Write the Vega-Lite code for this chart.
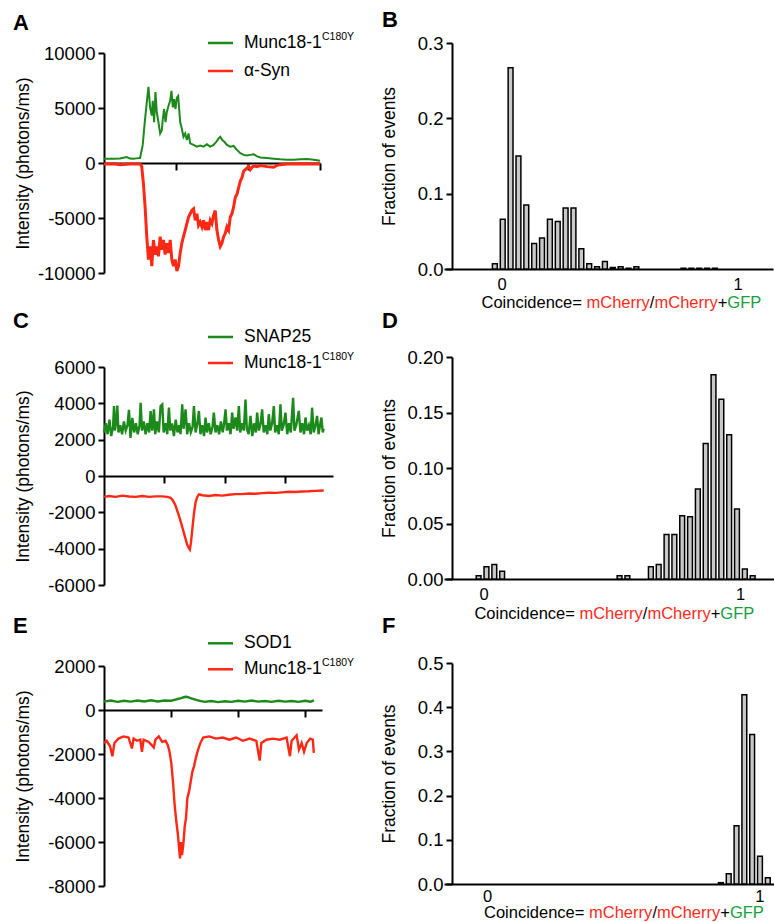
{
  "$schema": "https://vega.github.io/schema/vega-lite/v6.json",
  "background": "white",
  "padding": {"left": 12, "top": 0, "right": 0, "bottom": 0},
  "config": {
    "font": "Liberation Sans",
    "view": {"stroke": null},
    "axis": {"domainColor": "#000", "domainWidth": 2, "tickColor": "#000", "tickWidth": 2, "tickSize": 6, "labelColor": "#000", "labelFontSize": 18.5, "labelFont": "Liberation Sans", "titleFont": "Liberation Sans", "titleFontSize": 17.5, "titleFontWeight": "normal", "titleColor": "#000", "grid": false, "labelPadding": 3, "zindex": 1, "labelOverlap": false, "labelBound": false},
    "text": {"font": "Liberation Sans", "color": "#000"}
  },
  "hconcat": [
    {
      "vconcat": [
        {"width": 1, "height": 53, "data": {"values": []}, "mark": {"type": "point", "opacity": 0}},
        {
          "width": 216, "height": 220,
          "layer": [
            {
              "data": {"values": [
                {"t":0,"v":390,"s":"g"},{"t":0.13,"v":390,"s":"g"},{"t":0.22,"v":420,"s":"g"},{"t":0.316,"v":540,"s":"g"},{"t":0.36,"v":400,"s":"g"},{"t":0.408,"v":390,"s":"g"},{"t":0.45,"v":420,"s":"g"},{"t":0.501,"v":450,"s":"g"},{"t":0.538,"v":1640,"s":"g"},{"t":0.566,"v":3720,"s":"g"},{"t":0.594,"v":5500,"s":"g"},{"t":0.617,"v":6930,"s":"g"},{"t":0.64,"v":5060,"s":"g"},{"t":0.664,"v":4320,"s":"g"},{"t":0.677,"v":5650,"s":"g"},{"t":0.696,"v":3720,"s":"g"},{"t":0.715,"v":6460,"s":"g"},{"t":0.733,"v":4610,"s":"g"},{"t":0.756,"v":3720,"s":"g"},{"t":0.78,"v":2680,"s":"g"},{"t":0.803,"v":2980,"s":"g"},{"t":0.817,"v":4020,"s":"g"},{"t":0.835,"v":4910,"s":"g"},{"t":0.854,"v":3720,"s":"g"},{"t":0.872,"v":4610,"s":"g"},{"t":0.896,"v":5210,"s":"g"},{"t":0.919,"v":5650,"s":"g"},{"t":0.937,"v":6550,"s":"g"},{"t":0.956,"v":5060,"s":"g"},{"t":0.974,"v":5800,"s":"g"},{"t":0.993,"v":4910,"s":"g"},{"t":1.012,"v":5950,"s":"g"},{"t":1.03,"v":6100,"s":"g"},{"t":1.044,"v":4910,"s":"g"},{"t":1.058,"v":3720,"s":"g"},{"t":1.081,"v":3120,"s":"g"},{"t":1.104,"v":2380,"s":"g"},{"t":1.128,"v":2680,"s":"g"},{"t":1.151,"v":2080,"s":"g"},{"t":1.174,"v":2680,"s":"g"},{"t":1.197,"v":1790,"s":"g"},{"t":1.244,"v":1640,"s":"g"},{"t":1.29,"v":1490,"s":"g"},{"t":1.336,"v":1580,"s":"g"},{"t":1.383,"v":1490,"s":"g"},{"t":1.429,"v":1700,"s":"g"},{"t":1.476,"v":1490,"s":"g"},{"t":1.522,"v":1640,"s":"g"},{"t":1.559,"v":1930,"s":"g"},{"t":1.592,"v":2230,"s":"g"},{"t":1.615,"v":2380,"s":"g"},{"t":1.643,"v":2080,"s":"g"},{"t":1.671,"v":1930,"s":"g"},{"t":1.708,"v":1640,"s":"g"},{"t":1.754,"v":1490,"s":"g"},{"t":1.8,"v":1550,"s":"g"},{"t":1.847,"v":1190,"s":"g"},{"t":1.893,"v":890,"s":"g"},{"t":1.94,"v":740,"s":"g"},{"t":1.986,"v":680,"s":"g"},{"t":2.032,"v":740,"s":"g"},{"t":2.079,"v":800,"s":"g"},{"t":2.125,"v":600,"s":"g"},{"t":2.172,"v":510,"s":"g"},{"t":2.265,"v":450,"s":"g"},{"t":2.357,"v":390,"s":"g"},{"t":2.45,"v":330,"s":"g"},{"t":2.543,"v":300,"s":"g"},{"t":2.636,"v":300,"s":"g"},{"t":2.729,"v":330,"s":"g"},{"t":2.821,"v":360,"s":"g"},{"t":2.914,"v":300,"s":"g"},{"t":3.0,"v":210,"s":"g"},
                {"t":0,"v":-90,"s":"r"},{"t":0.13,"v":-60,"s":"r"},{"t":0.223,"v":-150,"s":"r"},{"t":0.362,"v":-90,"s":"r"},{"t":0.501,"v":-90,"s":"r"},{"t":0.524,"v":-300,"s":"r"},{"t":0.548,"v":-1930,"s":"r"},{"t":0.571,"v":-4020,"s":"r"},{"t":0.594,"v":-6700,"s":"r"},{"t":0.617,"v":-8780,"s":"r"},{"t":0.64,"v":-7590,"s":"r"},{"t":0.664,"v":-9370,"s":"r"},{"t":0.687,"v":-7000,"s":"r"},{"t":0.71,"v":-8330,"s":"r"},{"t":0.733,"v":-7590,"s":"r"},{"t":0.756,"v":-8480,"s":"r"},{"t":0.78,"v":-6700,"s":"r"},{"t":0.803,"v":-7890,"s":"r"},{"t":0.826,"v":-7000,"s":"r"},{"t":0.849,"v":-8330,"s":"r"},{"t":0.872,"v":-7290,"s":"r"},{"t":0.896,"v":-8180,"s":"r"},{"t":0.919,"v":-7000,"s":"r"},{"t":0.942,"v":-8780,"s":"r"},{"t":0.965,"v":-9370,"s":"r"},{"t":0.988,"v":-8780,"s":"r"},{"t":1.012,"v":-9820,"s":"r"},{"t":1.035,"v":-9370,"s":"r"},{"t":1.058,"v":-8180,"s":"r"},{"t":1.081,"v":-7290,"s":"r"},{"t":1.104,"v":-6700,"s":"r"},{"t":1.128,"v":-6100,"s":"r"},{"t":1.151,"v":-5510,"s":"r"},{"t":1.174,"v":-4910,"s":"r"},{"t":1.197,"v":-4610,"s":"r"},{"t":1.22,"v":-4320,"s":"r"},{"t":1.244,"v":-4170,"s":"r"},{"t":1.267,"v":-5210,"s":"r"},{"t":1.29,"v":-4610,"s":"r"},{"t":1.313,"v":-5650,"s":"r"},{"t":1.336,"v":-5360,"s":"r"},{"t":1.36,"v":-5800,"s":"r"},{"t":1.383,"v":-5210,"s":"r"},{"t":1.406,"v":-6100,"s":"r"},{"t":1.429,"v":-5360,"s":"r"},{"t":1.452,"v":-6100,"s":"r"},{"t":1.476,"v":-5210,"s":"r"},{"t":1.499,"v":-5510,"s":"r"},{"t":1.522,"v":-4760,"s":"r"},{"t":1.545,"v":-4320,"s":"r"},{"t":1.568,"v":-6100,"s":"r"},{"t":1.592,"v":-7000,"s":"r"},{"t":1.615,"v":-7590,"s":"r"},{"t":1.638,"v":-7290,"s":"r"},{"t":1.661,"v":-6700,"s":"r"},{"t":1.684,"v":-6400,"s":"r"},{"t":1.708,"v":-5800,"s":"r"},{"t":1.731,"v":-6100,"s":"r"},{"t":1.754,"v":-4910,"s":"r"},{"t":1.777,"v":-4610,"s":"r"},{"t":1.8,"v":-4020,"s":"r"},{"t":1.824,"v":-3120,"s":"r"},{"t":1.847,"v":-2830,"s":"r"},{"t":1.87,"v":-2230,"s":"r"},{"t":1.893,"v":-1640,"s":"r"},{"t":1.916,"v":-1340,"s":"r"},{"t":1.94,"v":-740,"s":"r"},{"t":1.963,"v":-600,"s":"r"},{"t":1.986,"v":-450,"s":"r"},{"t":2.009,"v":-300,"s":"r"},{"t":2.032,"v":-600,"s":"r"},{"t":2.056,"v":-390,"s":"r"},{"t":2.079,"v":-270,"s":"r"},{"t":2.125,"v":-330,"s":"r"},{"t":2.172,"v":-240,"s":"r"},{"t":2.265,"v":-330,"s":"r"},{"t":2.357,"v":-390,"s":"r"},{"t":2.404,"v":-210,"s":"r"},{"t":2.45,"v":-150,"s":"r"},{"t":2.543,"v":-90,"s":"r"},{"t":2.729,"v":-60,"s":"r"},{"t":3.0,"v":-90,"s":"r"}
              ]},
              "mark": {"type": "line", "clip": false},
              "encoding": {
                "x": {"field": "t", "type": "quantitative", "scale": {"domain": [0, 3], "nice": false, "zero": false}, "axis": {"values": [1, 2, 3], "tickCount": 10, "labels": false, "title": null, "offset": -110, "tickSize": 7}},
                "y": {"field": "v", "type": "quantitative", "scale": {"domain": [-10000, 10000], "nice": false, "zero": false}, "axis": {"values": [-10000, -5000, 0, 5000, 10000], "tickCount": 10, "title": "Intensity (photons/ms)", "titleX": -72, "labelOverlap": false, "labelExpr": "'' + datum.value"}},
                "color": {"field": "s", "type": "nominal", "scale": {"domain": ["g", "r"], "range": ["#1b8a1b", "#ff2814"]}, "legend": null},
                "strokeWidth": {"field": "s", "type": "nominal", "scale": {"domain": ["g", "r"], "range": [2, 3]}, "legend": null}
              }
            },
            {"data": {"values": [{}]}, "mark": {"type": "rule", "strokeWidth": 2.5, "color": "#1b8a1b"}, "encoding": {"x": {"datum": 1.444, "type": "quantitative"}, "x2": {"datum": 1.792}, "y": {"datum": 10909, "type": "quantitative"}}},
            {"data": {"values": [{}]}, "mark": {"type": "rule", "strokeWidth": 2.5, "color": "#ff2814"}, "encoding": {"x": {"datum": 1.444, "type": "quantitative"}, "x2": {"datum": 1.792}, "y": {"datum": 8364, "type": "quantitative"}}},
            {"data": {"values": [{}]}, "mark": {"type": "text", "text": "Munc18-1", "align": "left", "baseline": "middle", "fontSize": 17.5}, "encoding": {"x": {"datum": 1.944, "type": "quantitative"}, "y": {"datum": 10909, "type": "quantitative"}}},
            {"data": {"values": [{}]}, "mark": {"type": "text", "text": "C180Y", "align": "left", "baseline": "middle", "fontSize": 10.5, "dx": 78, "dy": -6}, "encoding": {"x": {"datum": 1.944, "type": "quantitative"}, "y": {"datum": 10909, "type": "quantitative"}}},
            {"data": {"values": [{}]}, "mark": {"type": "text", "text": "α-Syn", "align": "left", "baseline": "middle", "fontSize": 17.5}, "encoding": {"x": {"datum": 1.944, "type": "quantitative"}, "y": {"datum": 8364, "type": "quantitative"}}},
            {"data": {"values": [{}]}, "mark": {"type": "text", "text": "A", "align": "left", "baseline": "alphabetic", "fontSize": 22, "fontWeight": "bold"}, "encoding": {"x": {"datum": -1.264, "type": "quantitative"}, "y": {"datum": 12090, "type": "quantitative"}}}
          ]
        },
        {"width": 1, "height": 94, "data": {"values": []}, "mark": {"type": "point", "opacity": 0}},
        {
          "width": 229, "height": 218,
          "layer": [
            {
              "data": {"values": [
                {"t":0,"v":2400,"s":"g"},{"t":0.03,"v":2900,"s":"g"},{"t":0.06,"v":2300,"s":"g"},{"t":0.09,"v":3100,"s":"g"},{"t":0.12,"v":2200,"s":"g"},{"t":0.15,"v":2700,"s":"g"},{"t":0.166,"v":3850,"s":"g"},{"t":0.18,"v":2500,"s":"g"},{"t":0.2,"v":2900,"s":"g"},{"t":0.221,"v":3880,"s":"g"},{"t":0.24,"v":2400,"s":"g"},{"t":0.27,"v":2800,"s":"g"},{"t":0.3,"v":2300,"s":"g"},{"t":0.33,"v":3000,"s":"g"},{"t":0.36,"v":2500,"s":"g"},{"t":0.39,"v":2800,"s":"g"},{"t":0.414,"v":3640,"s":"g"},{"t":0.44,"v":2100,"s":"g"},{"t":0.47,"v":3200,"s":"g"},{"t":0.5,"v":2400,"s":"g"},{"t":0.53,"v":2900,"s":"g"},{"t":0.56,"v":2300,"s":"g"},{"t":0.59,"v":2800,"s":"g"},{"t":0.608,"v":4030,"s":"g"},{"t":0.63,"v":2500,"s":"g"},{"t":0.66,"v":3000,"s":"g"},{"t":0.69,"v":2300,"s":"g"},{"t":0.72,"v":2900,"s":"g"},{"t":0.75,"v":2400,"s":"g"},{"t":0.773,"v":3580,"s":"g"},{"t":0.8,"v":2500,"s":"g"},{"t":0.829,"v":3670,"s":"g"},{"t":0.85,"v":2300,"s":"g"},{"t":0.88,"v":3000,"s":"g"},{"t":0.91,"v":2400,"s":"g"},{"t":0.939,"v":3850,"s":"g"},{"t":0.967,"v":3940,"s":"g"},{"t":0.99,"v":2400,"s":"g"},{"t":1.02,"v":2900,"s":"g"},{"t":1.05,"v":2300,"s":"g"},{"t":1.077,"v":3760,"s":"g"},{"t":1.1,"v":2500,"s":"g"},{"t":1.13,"v":2900,"s":"g"},{"t":1.16,"v":2200,"s":"g"},{"t":1.19,"v":3100,"s":"g"},{"t":1.22,"v":2400,"s":"g"},{"t":1.25,"v":2800,"s":"g"},{"t":1.27,"v":2300,"s":"g"},{"t":1.298,"v":3940,"s":"g"},{"t":1.32,"v":2600,"s":"g"},{"t":1.354,"v":3670,"s":"g"},{"t":1.38,"v":2300,"s":"g"},{"t":1.41,"v":2900,"s":"g"},{"t":1.44,"v":2400,"s":"g"},{"t":1.47,"v":2700,"s":"g"},{"t":1.492,"v":3850,"s":"g"},{"t":1.52,"v":2400,"s":"g"},{"t":1.55,"v":2900,"s":"g"},{"t":1.575,"v":3580,"s":"g"},{"t":1.6,"v":2300,"s":"g"},{"t":1.63,"v":2800,"s":"g"},{"t":1.66,"v":2200,"s":"g"},{"t":1.685,"v":3220,"s":"g"},{"t":1.71,"v":2400,"s":"g"},{"t":1.74,"v":2900,"s":"g"},{"t":1.77,"v":2300,"s":"g"},{"t":1.8,"v":2700,"s":"g"},{"t":1.823,"v":3490,"s":"g"},{"t":1.85,"v":2400,"s":"g"},{"t":1.88,"v":2800,"s":"g"},{"t":1.91,"v":2300,"s":"g"},{"t":1.94,"v":3000,"s":"g"},{"t":1.97,"v":2400,"s":"g"},{"t":1.99,"v":2800,"s":"g"},{"t":2.017,"v":3670,"s":"g"},{"t":2.04,"v":2500,"s":"g"},{"t":2.07,"v":2900,"s":"g"},{"t":2.1,"v":2300,"s":"g"},{"t":2.127,"v":3490,"s":"g"},{"t":2.15,"v":2600,"s":"g"},{"t":2.182,"v":3220,"s":"g"},{"t":2.21,"v":2500,"s":"g"},{"t":2.238,"v":3850,"s":"g"},{"t":2.26,"v":2400,"s":"g"},{"t":2.29,"v":2900,"s":"g"},{"t":2.32,"v":2500,"s":"g"},{"t":2.348,"v":4210,"s":"g"},{"t":2.37,"v":2600,"s":"g"},{"t":2.4,"v":2300,"s":"g"},{"t":2.431,"v":3310,"s":"g"},{"t":2.46,"v":2200,"s":"g"},{"t":2.49,"v":2900,"s":"g"},{"t":2.52,"v":2400,"s":"g"},{"t":2.541,"v":3490,"s":"g"},{"t":2.57,"v":2500,"s":"g"},{"t":2.6,"v":2900,"s":"g"},{"t":2.624,"v":3670,"s":"g"},{"t":2.65,"v":2400,"s":"g"},{"t":2.68,"v":2800,"s":"g"},{"t":2.71,"v":2300,"s":"g"},{"t":2.735,"v":3400,"s":"g"},{"t":2.76,"v":2500,"s":"g"},{"t":2.79,"v":2900,"s":"g"},{"t":2.818,"v":3850,"s":"g"},{"t":2.84,"v":2400,"s":"g"},{"t":2.87,"v":2800,"s":"g"},{"t":2.9,"v":2300,"s":"g"},{"t":2.928,"v":3940,"s":"g"},{"t":2.95,"v":2500,"s":"g"},{"t":2.98,"v":2800,"s":"g"},{"t":3.011,"v":3490,"s":"g"},{"t":3.04,"v":2300,"s":"g"},{"t":3.07,"v":2900,"s":"g"},{"t":3.1,"v":2400,"s":"g"},{"t":3.138,"v":4300,"s":"g"},{"t":3.16,"v":2500,"s":"g"},{"t":3.19,"v":2800,"s":"g"},{"t":3.232,"v":3580,"s":"g"},{"t":3.26,"v":2400,"s":"g"},{"t":3.29,"v":2900,"s":"g"},{"t":3.32,"v":2300,"s":"g"},{"t":3.343,"v":3220,"s":"g"},{"t":3.37,"v":2500,"s":"g"},{"t":3.4,"v":2800,"s":"g"},{"t":3.43,"v":2300,"s":"g"},{"t":3.453,"v":3760,"s":"g"},{"t":3.48,"v":2400,"s":"g"},{"t":3.51,"v":2800,"s":"g"},{"t":3.536,"v":3310,"s":"g"},{"t":3.56,"v":2300,"s":"g"},{"t":3.58,"v":2700,"s":"g"},{"t":3.608,"v":3220,"s":"g"},{"t":3.63,"v":2400,"s":"g"},{"t":3.645,"v":2600,"s":"g"},
                {"t":0,"v":-1150,"s":"r"},{"t":0.083,"v":-1100,"s":"r"},{"t":0.193,"v":-1150,"s":"r"},{"t":0.304,"v":-1080,"s":"r"},{"t":0.414,"v":-1130,"s":"r"},{"t":0.525,"v":-1150,"s":"r"},{"t":0.635,"v":-1100,"s":"r"},{"t":0.746,"v":-1150,"s":"r"},{"t":0.856,"v":-1120,"s":"r"},{"t":0.967,"v":-1120,"s":"r"},{"t":1.05,"v":-1150,"s":"r"},{"t":1.105,"v":-1200,"s":"r"},{"t":1.144,"v":-1350,"s":"r"},{"t":1.188,"v":-1640,"s":"r"},{"t":1.243,"v":-2180,"s":"r"},{"t":1.298,"v":-2800,"s":"r"},{"t":1.343,"v":-3340,"s":"r"},{"t":1.381,"v":-3790,"s":"r"},{"t":1.409,"v":-3970,"s":"r"},{"t":1.425,"v":-4050,"s":"r"},{"t":1.442,"v":-3700,"s":"r"},{"t":1.464,"v":-2980,"s":"r"},{"t":1.492,"v":-2090,"s":"r"},{"t":1.519,"v":-1460,"s":"r"},{"t":1.547,"v":-1150,"s":"r"},{"t":1.575,"v":-1010,"s":"r"},{"t":1.63,"v":-1060,"s":"r"},{"t":1.74,"v":-1100,"s":"r"},{"t":1.851,"v":-1050,"s":"r"},{"t":1.961,"v":-1080,"s":"r"},{"t":2.072,"v":-1030,"s":"r"},{"t":2.182,"v":-1000,"s":"r"},{"t":2.293,"v":-1000,"s":"r"},{"t":2.403,"v":-960,"s":"r"},{"t":2.514,"v":-980,"s":"r"},{"t":2.624,"v":-940,"s":"r"},{"t":2.735,"v":-920,"s":"r"},{"t":2.845,"v":-930,"s":"r"},{"t":2.956,"v":-900,"s":"r"},{"t":3.066,"v":-870,"s":"r"},{"t":3.177,"v":-880,"s":"r"},{"t":3.287,"v":-850,"s":"r"},{"t":3.398,"v":-840,"s":"r"},{"t":3.508,"v":-820,"s":"r"},{"t":3.646,"v":-800,"s":"r"}
              ]},
              "mark": {"type": "line", "clip": false, "strokeWidth": 2.4},
              "encoding": {
                "x": {"field": "t", "type": "quantitative", "scale": {"domain": [0, 3.8], "nice": false, "zero": false}, "axis": {"values": [1, 2, 3], "tickCount": 10, "labels": false, "title": null, "offset": -109, "tickSize": 7}},
                "y": {"field": "v", "type": "quantitative", "scale": {"domain": [-6000, 6000], "nice": false, "zero": false}, "axis": {"values": [-6000, -4000, -2000, 0, 2000, 4000, 6000], "tickCount": 10, "title": "Intensity (photons/ms)", "titleX": -72, "labelOverlap": false, "labelExpr": "'' + datum.value"}},
                "color": {"field": "s", "type": "nominal", "scale": {"domain": ["g", "r"], "range": ["#1b8a1b", "#ff2814"]}, "legend": null}
              }
            },
            {"data": {"values": [{}]}, "mark": {"type": "rule", "strokeWidth": 2.5, "color": "#1b8a1b"}, "encoding": {"x": {"datum": 1.726, "type": "quantitative"}, "x2": {"datum": 2.141}, "y": {"datum": 7652, "type": "quantitative"}}},
            {"data": {"values": [{}]}, "mark": {"type": "rule", "strokeWidth": 2.5, "color": "#ff2814"}, "encoding": {"x": {"datum": 1.726, "type": "quantitative"}, "x2": {"datum": 2.141}, "y": {"datum": 6220, "type": "quantitative"}}},
            {"data": {"values": [{}]}, "mark": {"type": "text", "text": "SNAP25", "align": "left", "baseline": "middle", "fontSize": 17.5}, "encoding": {"x": {"datum": 2.323, "type": "quantitative"}, "y": {"datum": 7652, "type": "quantitative"}}},
            {"data": {"values": [{}]}, "mark": {"type": "text", "text": "Munc18-1", "align": "left", "baseline": "middle", "fontSize": 17.5}, "encoding": {"x": {"datum": 2.323, "type": "quantitative"}, "y": {"datum": 6220, "type": "quantitative"}}},
            {"data": {"values": [{}]}, "mark": {"type": "text", "text": "C180Y", "align": "left", "baseline": "middle", "fontSize": 10.5, "dx": 78, "dy": -6}, "encoding": {"x": {"datum": 2.323, "type": "quantitative"}, "y": {"datum": 6220, "type": "quantitative"}}},
            {"data": {"values": [{}]}, "mark": {"type": "text", "text": "C", "align": "left", "baseline": "alphabetic", "fontSize": 22, "fontWeight": "bold"}, "encoding": {"x": {"datum": -1.51, "type": "quantitative"}, "y": {"datum": 8147, "type": "quantitative"}}}
          ]
        },
        {"width": 1, "height": 81, "data": {"values": []}, "mark": {"type": "point", "opacity": 0}},
        {
          "width": 218, "height": 220,
          "layer": [
            {
              "data": {"values": [
                {"t":0,"v":380,"s":"g"},{"t":0.1,"v":430,"s":"g"},{"t":0.2,"v":370,"s":"g"},{"t":0.3,"v":420,"s":"g"},{"t":0.4,"v":380,"s":"g"},{"t":0.5,"v":430,"s":"g"},{"t":0.6,"v":390,"s":"g"},{"t":0.7,"v":440,"s":"g"},{"t":0.8,"v":390,"s":"g"},{"t":0.9,"v":430,"s":"g"},{"t":1.0,"v":420,"s":"g"},{"t":1.05,"v":460,"s":"g"},{"t":1.1,"v":500,"s":"g"},{"t":1.15,"v":540,"s":"g"},{"t":1.2,"v":590,"s":"g"},{"t":1.23,"v":600,"s":"g"},{"t":1.26,"v":570,"s":"g"},{"t":1.3,"v":530,"s":"g"},{"t":1.35,"v":480,"s":"g"},{"t":1.4,"v":440,"s":"g"},{"t":1.45,"v":400,"s":"g"},{"t":1.5,"v":370,"s":"g"},{"t":1.6,"v":410,"s":"g"},{"t":1.7,"v":360,"s":"g"},{"t":1.8,"v":400,"s":"g"},{"t":1.9,"v":370,"s":"g"},{"t":2.0,"v":420,"s":"g"},{"t":2.1,"v":380,"s":"g"},{"t":2.2,"v":430,"s":"g"},{"t":2.3,"v":380,"s":"g"},{"t":2.4,"v":410,"s":"g"},{"t":2.5,"v":370,"s":"g"},{"t":2.6,"v":420,"s":"g"},{"t":2.7,"v":380,"s":"g"},{"t":2.8,"v":410,"s":"g"},{"t":2.9,"v":370,"s":"g"},{"t":3.0,"v":420,"s":"g"},{"t":3.08,"v":380,"s":"g"},{"t":3.13,"v":440,"s":"g"},
                {"t":0,"v":-1500,"s":"r"},{"t":0.04,"v":-1400,"s":"r"},{"t":0.09,"v":-1650,"s":"r"},{"t":0.125,"v":-2100,"s":"r"},{"t":0.155,"v":-1500,"s":"r"},{"t":0.216,"v":-1300,"s":"r"},{"t":0.291,"v":-1200,"s":"r"},{"t":0.366,"v":-1250,"s":"r"},{"t":0.416,"v":-1750,"s":"r"},{"t":0.441,"v":-1300,"s":"r"},{"t":0.491,"v":-1400,"s":"r"},{"t":0.541,"v":-1350,"s":"r"},{"t":0.566,"v":-1900,"s":"r"},{"t":0.591,"v":-1350,"s":"r"},{"t":0.667,"v":-1450,"s":"r"},{"t":0.742,"v":-1700,"s":"r"},{"t":0.767,"v":-1350,"s":"r"},{"t":0.817,"v":-1200,"s":"r"},{"t":0.867,"v":-1450,"s":"r"},{"t":0.917,"v":-1400,"s":"r"},{"t":0.952,"v":-1600,"s":"r"},{"t":0.977,"v":-1900,"s":"r"},{"t":1.003,"v":-2400,"s":"r"},{"t":1.028,"v":-3250,"s":"r"},{"t":1.053,"v":-4300,"s":"r"},{"t":1.078,"v":-5060,"s":"r"},{"t":1.103,"v":-5700,"s":"r"},{"t":1.123,"v":-6400,"s":"r"},{"t":1.133,"v":-6750,"s":"r"},{"t":1.148,"v":-6000,"s":"r"},{"t":1.163,"v":-6600,"s":"r"},{"t":1.183,"v":-6100,"s":"r"},{"t":1.203,"v":-5300,"s":"r"},{"t":1.223,"v":-4900,"s":"r"},{"t":1.243,"v":-4000,"s":"r"},{"t":1.268,"v":-3700,"s":"r"},{"t":1.293,"v":-3250,"s":"r"},{"t":1.318,"v":-2800,"s":"r"},{"t":1.343,"v":-2550,"s":"r"},{"t":1.368,"v":-2200,"s":"r"},{"t":1.393,"v":-1900,"s":"r"},{"t":1.419,"v":-1650,"s":"r"},{"t":1.444,"v":-1450,"s":"r"},{"t":1.479,"v":-1250,"s":"r"},{"t":1.569,"v":-1200,"s":"r"},{"t":1.669,"v":-1300,"s":"r"},{"t":1.769,"v":-1250,"s":"r"},{"t":1.87,"v":-1350,"s":"r"},{"t":1.97,"v":-1250,"s":"r"},{"t":2.07,"v":-1400,"s":"r"},{"t":2.17,"v":-1300,"s":"r"},{"t":2.271,"v":-1400,"s":"r"},{"t":2.321,"v":-2300,"s":"r"},{"t":2.346,"v":-1500,"s":"r"},{"t":2.421,"v":-1350,"s":"r"},{"t":2.521,"v":-1300,"s":"r"},{"t":2.622,"v":-1350,"s":"r"},{"t":2.722,"v":-1250,"s":"r"},{"t":2.772,"v":-2100,"s":"r"},{"t":2.797,"v":-1400,"s":"r"},{"t":2.872,"v":-1150,"s":"r"},{"t":2.907,"v":-1800,"s":"r"},{"t":2.947,"v":-1500,"s":"r"},{"t":2.982,"v":-1900,"s":"r"},{"t":3.023,"v":-1500,"s":"r"},{"t":3.073,"v":-1300,"s":"r"},{"t":3.113,"v":-1350,"s":"r"},{"t":3.128,"v":-1950,"s":"r"}
              ]},
              "mark": {"type": "line", "clip": false, "strokeWidth": 2.4},
              "encoding": {
                "x": {"field": "t", "type": "quantitative", "scale": {"domain": [0, 3.25], "nice": false, "zero": false}, "axis": {"values": [1, 2, 3], "tickCount": 10, "labels": false, "title": null, "offset": -176, "tickSize": 7}},
                "y": {"field": "v", "type": "quantitative", "scale": {"domain": [-8000, 2000], "nice": false, "zero": false}, "axis": {"values": [-8000, -6000, -4000, -2000, 0, 2000], "tickCount": 10, "title": "Intensity (photons/ms)", "titleX": -72, "labelOverlap": false, "labelExpr": "'' + datum.value"}},
                "color": {"field": "s", "type": "nominal", "scale": {"domain": ["g", "r"], "range": ["#1b8a1b", "#ff2814"]}, "legend": null}
              }
            },
            {"data": {"values": [{}]}, "mark": {"type": "rule", "strokeWidth": 2.5, "color": "#1b8a1b"}, "encoding": {"x": {"datum": 1.55, "type": "quantitative"}, "x2": {"datum": 1.923}, "y": {"datum": 3032, "type": "quantitative"}}},
            {"data": {"values": [{}]}, "mark": {"type": "rule", "strokeWidth": 2.5, "color": "#ff2814"}, "encoding": {"x": {"datum": 1.55, "type": "quantitative"}, "x2": {"datum": 1.923}, "y": {"datum": 1850, "type": "quantitative"}}},
            {"data": {"values": [{}]}, "mark": {"type": "text", "text": "SOD1", "align": "left", "baseline": "middle", "fontSize": 17.5}, "encoding": {"x": {"datum": 2.087, "type": "quantitative"}, "y": {"datum": 3032, "type": "quantitative"}}},
            {"data": {"values": [{}]}, "mark": {"type": "text", "text": "Munc18-1", "align": "left", "baseline": "middle", "fontSize": 17.5}, "encoding": {"x": {"datum": 2.087, "type": "quantitative"}, "y": {"datum": 1850, "type": "quantitative"}}},
            {"data": {"values": [{}]}, "mark": {"type": "text", "text": "C180Y", "align": "left", "baseline": "middle", "fontSize": 10.5, "dx": 78, "dy": -6}, "encoding": {"x": {"datum": 2.087, "type": "quantitative"}, "y": {"datum": 1850, "type": "quantitative"}}},
            {"data": {"values": [{}]}, "mark": {"type": "text", "text": "E", "align": "left", "baseline": "alphabetic", "fontSize": 22, "fontWeight": "bold"}, "encoding": {"x": {"datum": -1.357, "type": "quantitative"}, "y": {"datum": 3500, "type": "quantitative"}}}
          ]
        }
      ],
      "spacing": 0,
      "bounds": "flush"
    },
    {
      "vconcat": [
        {"width": 1, "height": 43, "data": {"values": []}, "mark": {"type": "point", "opacity": 0}},
        {
          "width": 329, "height": 226,
          "layer": [
            {
              "data": {"values": [
                {"x0":-0.0477,"x1":-0.0143,"f":0.007},{"x0":-0.0143,"x1":0.019,"f":0.066},{"x0":0.019,"x1":0.0523,"f":0.267},{"x0":0.0523,"x1":0.0857,"f":0.15},{"x0":0.0857,"x1":0.119,"f":0.085},{"x0":0.119,"x1":0.1523,"f":0.034},{"x0":0.1523,"x1":0.1857,"f":0.041},{"x0":0.1857,"x1":0.219,"f":0.066},{"x0":0.219,"x1":0.2523,"f":0.063},{"x0":0.2523,"x1":0.2857,"f":0.081},{"x0":0.2857,"x1":0.319,"f":0.081},{"x0":0.319,"x1":0.3523,"f":0.027},{"x0":0.3523,"x1":0.3857,"f":0.007},{"x0":0.3857,"x1":0.419,"f":0.003},{"x0":0.419,"x1":0.4523,"f":0.01},{"x0":0.4523,"x1":0.4857,"f":0.002},{"x0":0.4857,"x1":0.519,"f":0.003},{"x0":0.519,"x1":0.5523,"f":0.001},{"x0":0.5523,"x1":0.5857,"f":0.003},{"x0":0.7523,"x1":0.7857,"f":0.001},{"x0":0.7857,"x1":0.819,"f":0.001},{"x0":0.819,"x1":0.8523,"f":0.001},{"x0":0.8523,"x1":0.8857,"f":0.001},{"x0":0.8857,"x1":0.919,"f":0.001}
              ]},
              "mark": {"type": "bar", "fill": "#c8c8c8", "stroke": "#000", "strokeWidth": 1.5, "binSpacing": 3},
              "encoding": {
                "x": {"field": "x0", "type": "quantitative", "bin": {"binned": true}, "scale": {"domain": [-0.2445, 1.1505], "nice": false, "zero": false}, "axis": {"values": [0, 1], "tickCount": 10, "format": "d", "ticks": false, "labelPadding": 7, "labelFontSize": 16.5, "title": null}},
                "x2": {"field": "x1"},
                "y": {"field": "f", "type": "quantitative", "scale": {"domain": [0, 0.3], "nice": false}, "axis": {"values": [0, 0.1, 0.2, 0.3], "tickCount": 10, "format": ".1f", "offset": -8, "title": "Fraction of events", "titleX": -54, "labelOverlap": false}}
              }
            },
            {"data": {"values": [{}]}, "mark": {"type": "text", "text": "B", "align": "left", "baseline": "alphabetic", "fontSize": 22, "fontWeight": "bold"}, "encoding": {"x": {"datum": -0.507, "type": "quantitative"}, "y": {"datum": 0.3212, "type": "quantitative"}}},
            {"data": {"values": [{}]}, "mark": {"type": "text", "text": "Coincidence=", "align": "left", "baseline": "middle", "fontSize": 16.5, "dx": -140}, "encoding": {"x": {"datum": 0.508, "type": "quantitative"}, "y": {"datum": -0.0445, "type": "quantitative"}}},
            {"data": {"values": [{}]}, "mark": {"type": "text", "text": "mCherry", "align": "left", "baseline": "middle", "fontSize": 16.5, "dx": -35, "color": "#ff2a1a"}, "encoding": {"x": {"datum": 0.508, "type": "quantitative"}, "y": {"datum": -0.0445, "type": "quantitative"}}},
            {"data": {"values": [{}]}, "mark": {"type": "text", "text": "/", "align": "left", "baseline": "middle", "fontSize": 16.5, "dx": 28.4}, "encoding": {"x": {"datum": 0.508, "type": "quantitative"}, "y": {"datum": -0.0445, "type": "quantitative"}}},
            {"data": {"values": [{}]}, "mark": {"type": "text", "text": "mCherry", "align": "left", "baseline": "middle", "fontSize": 16.5, "dx": 33, "color": "#ff2a1a"}, "encoding": {"x": {"datum": 0.508, "type": "quantitative"}, "y": {"datum": -0.0445, "type": "quantitative"}}},
            {"data": {"values": [{}]}, "mark": {"type": "text", "text": "+", "align": "left", "baseline": "middle", "fontSize": 16.5, "dx": 96.3}, "encoding": {"x": {"datum": 0.508, "type": "quantitative"}, "y": {"datum": -0.0445, "type": "quantitative"}}},
            {"data": {"values": [{}]}, "mark": {"type": "text", "text": "GFP", "align": "left", "baseline": "middle", "fontSize": 16.5, "dx": 105.9, "color": "#14a03c"}, "encoding": {"x": {"datum": 0.508, "type": "quantitative"}, "y": {"datum": -0.0445, "type": "quantitative"}}}
          ]
        },
        {"width": 1, "height": 88, "data": {"values": []}, "mark": {"type": "point", "opacity": 0}},
        {
          "width": 331, "height": 222,
          "layer": [
            {
              "data": {"values": [
                {"x0":-0.0363,"x1":-0.0058,"f":0.003},{"x0":-0.0058,"x1":0.0248,"f":0.011},{"x0":0.0248,"x1":0.0553,"f":0.013},{"x0":0.0553,"x1":0.0858,"f":0.007},{"x0":0.5128,"x1":0.5433,"f":0.003},{"x0":0.5433,"x1":0.5738,"f":0.003},{"x0":0.6348,"x1":0.6653,"f":0.011},{"x0":0.6653,"x1":0.6958,"f":0.013},{"x0":0.6958,"x1":0.7263,"f":0.04},{"x0":0.7263,"x1":0.7568,"f":0.04},{"x0":0.7568,"x1":0.7873,"f":0.057},{"x0":0.7873,"x1":0.8178,"f":0.056},{"x0":0.8178,"x1":0.8483,"f":0.081},{"x0":0.8483,"x1":0.8788,"f":0.122},{"x0":0.8788,"x1":0.9093,"f":0.184},{"x0":0.9093,"x1":0.9398,"f":0.162},{"x0":0.9398,"x1":0.9703,"f":0.13},{"x0":0.9703,"x1":1.0008,"f":0.063},{"x0":1.0008,"x1":1.0313,"f":0.009},{"x0":1.0313,"x1":1.0618,"f":0.003}
              ]},
              "mark": {"type": "bar", "fill": "#c8c8c8", "stroke": "#000", "strokeWidth": 1.5, "binSpacing": 3},
              "encoding": {
                "x": {"field": "x0", "type": "quantitative", "bin": {"binned": true}, "scale": {"domain": [-0.154, 1.1356], "nice": false, "zero": false}, "axis": {"values": [0, 1], "tickCount": 10, "format": "d", "ticks": false, "labelPadding": 7, "labelFontSize": 16.5, "title": null}},
                "x2": {"field": "x1"},
                "y": {"field": "f", "type": "quantitative", "scale": {"domain": [0, 0.2], "nice": false}, "axis": {"values": [0, 0.05, 0.1, 0.15, 0.2], "tickCount": 10, "format": ".2f", "offset": -8, "title": "Fraction of events", "titleX": -54, "labelOverlap": false}}
              }
            },
            {"data": {"values": [{}]}, "mark": {"type": "text", "text": "D", "align": "left", "baseline": "alphabetic", "fontSize": 22, "fontWeight": "bold"}, "encoding": {"x": {"datum": -0.396, "type": "quantitative"}, "y": {"datum": 0.2261, "type": "quantitative"}}},
            {"data": {"values": [{}]}, "mark": {"type": "text", "text": "Coincidence=", "align": "left", "baseline": "middle", "fontSize": 16.5, "dx": -140}, "encoding": {"x": {"datum": 0.51, "type": "quantitative"}, "y": {"datum": -0.0312, "type": "quantitative"}}},
            {"data": {"values": [{}]}, "mark": {"type": "text", "text": "mCherry", "align": "left", "baseline": "middle", "fontSize": 16.5, "dx": -35, "color": "#ff2a1a"}, "encoding": {"x": {"datum": 0.51, "type": "quantitative"}, "y": {"datum": -0.0312, "type": "quantitative"}}},
            {"data": {"values": [{}]}, "mark": {"type": "text", "text": "/", "align": "left", "baseline": "middle", "fontSize": 16.5, "dx": 28.4}, "encoding": {"x": {"datum": 0.51, "type": "quantitative"}, "y": {"datum": -0.0312, "type": "quantitative"}}},
            {"data": {"values": [{}]}, "mark": {"type": "text", "text": "mCherry", "align": "left", "baseline": "middle", "fontSize": 16.5, "dx": 33, "color": "#ff2a1a"}, "encoding": {"x": {"datum": 0.51, "type": "quantitative"}, "y": {"datum": -0.0312, "type": "quantitative"}}},
            {"data": {"values": [{}]}, "mark": {"type": "text", "text": "+", "align": "left", "baseline": "middle", "fontSize": 16.5, "dx": 96.3}, "encoding": {"x": {"datum": 0.51, "type": "quantitative"}, "y": {"datum": -0.0312, "type": "quantitative"}}},
            {"data": {"values": [{}]}, "mark": {"type": "text", "text": "GFP", "align": "left", "baseline": "middle", "fontSize": 16.5, "dx": 105.9, "color": "#14a03c"}, "encoding": {"x": {"datum": 0.51, "type": "quantitative"}, "y": {"datum": -0.0312, "type": "quantitative"}}}
          ]
        },
        {"width": 1, "height": 84, "data": {"values": []}, "mark": {"type": "point", "opacity": 0}},
        {
          "width": 331, "height": 221,
          "layer": [
            {
              "data": {"values": [
                {"x0":0.8427,"x1":0.8714,"f":0.003},{"x0":0.8714,"x1":0.9001,"f":0.023},{"x0":0.9001,"x1":0.9288,"f":0.132},{"x0":0.9288,"x1":0.9575,"f":0.428},{"x0":0.9575,"x1":0.9862,"f":0.338},{"x0":0.9862,"x1":1.0149,"f":0.063},{"x0":1.0149,"x1":1.0436,"f":0.014}
              ]},
              "mark": {"type": "bar", "fill": "#c8c8c8", "stroke": "#000", "strokeWidth": 1.5, "binSpacing": 3},
              "encoding": {
                "x": {"field": "x0", "type": "quantitative", "bin": {"binned": true}, "scale": {"domain": [-0.158, 1.0576], "nice": false, "zero": false}, "axis": {"values": [0, 1], "tickCount": 10, "format": "d", "ticks": false, "labelPadding": 4, "labelFontSize": 16.5, "title": null}},
                "x2": {"field": "x1"},
                "y": {"field": "f", "type": "quantitative", "scale": {"domain": [0, 0.5], "nice": false}, "axis": {"values": [0, 0.1, 0.2, 0.3, 0.4, 0.5], "tickCount": 10, "format": ".1f", "offset": -8, "title": "Fraction of events", "titleX": -54, "labelOverlap": false}}
              }
            },
            {"data": {"values": [{}]}, "mark": {"type": "text", "text": "F", "align": "left", "baseline": "alphabetic", "fontSize": 22, "fontWeight": "bold"}, "encoding": {"x": {"datum": -0.3856, "type": "quantitative"}, "y": {"datum": 0.5679, "type": "quantitative"}}},
            {"data": {"values": [{}]}, "mark": {"type": "text", "text": "Coincidence=", "align": "left", "baseline": "middle", "fontSize": 16.5, "dx": -140}, "encoding": {"x": {"datum": 0.503, "type": "quantitative"}, "y": {"datum": -0.0665, "type": "quantitative"}}},
            {"data": {"values": [{}]}, "mark": {"type": "text", "text": "mCherry", "align": "left", "baseline": "middle", "fontSize": 16.5, "dx": -35, "color": "#ff2a1a"}, "encoding": {"x": {"datum": 0.503, "type": "quantitative"}, "y": {"datum": -0.0665, "type": "quantitative"}}},
            {"data": {"values": [{}]}, "mark": {"type": "text", "text": "/", "align": "left", "baseline": "middle", "fontSize": 16.5, "dx": 28.4}, "encoding": {"x": {"datum": 0.503, "type": "quantitative"}, "y": {"datum": -0.0665, "type": "quantitative"}}},
            {"data": {"values": [{}]}, "mark": {"type": "text", "text": "mCherry", "align": "left", "baseline": "middle", "fontSize": 16.5, "dx": 33, "color": "#ff2a1a"}, "encoding": {"x": {"datum": 0.503, "type": "quantitative"}, "y": {"datum": -0.0665, "type": "quantitative"}}},
            {"data": {"values": [{}]}, "mark": {"type": "text", "text": "+", "align": "left", "baseline": "middle", "fontSize": 16.5, "dx": 96.3}, "encoding": {"x": {"datum": 0.503, "type": "quantitative"}, "y": {"datum": -0.0665, "type": "quantitative"}}},
            {"data": {"values": [{}]}, "mark": {"type": "text", "text": "GFP", "align": "left", "baseline": "middle", "fontSize": 16.5, "dx": 105.9, "color": "#14a03c"}, "encoding": {"x": {"datum": 0.503, "type": "quantitative"}, "y": {"datum": -0.0665, "type": "quantitative"}}}
          ]
        }
      ],
      "spacing": 0,
      "bounds": "flush"
    }
  ],
  "spacing": 340,
  "bounds": "flush"
}
